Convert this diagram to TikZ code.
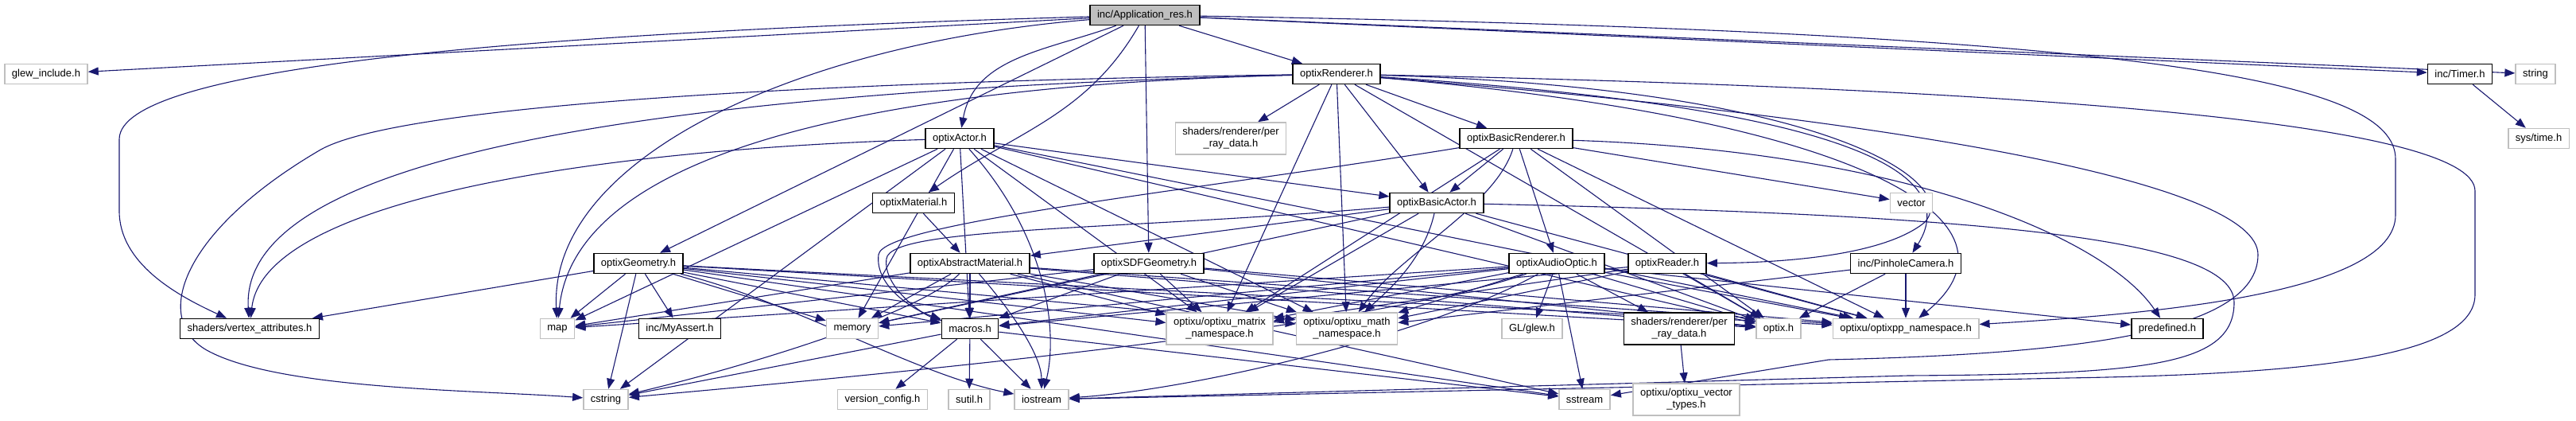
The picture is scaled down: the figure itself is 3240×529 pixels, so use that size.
\documentclass[tikz,border=0pt]{standalone}
\usepackage{fontspec}
\setmainfont{Liberation Sans}
\usetikzlibrary{arrows.meta,backgrounds}
\definecolor{edgeblue}{RGB}{25,25,112}
\definecolor{extgray}{RGB}{191,191,191}
\begin{document}
\begin{tikzpicture}[x=1pt,y=-1pt,
  hdr/.style={draw=black,line width=1.5pt,fill=white,font=\fontsize{13}{15}\selectfont,
    inner xsep=9pt,inner ysep=0pt,minimum height=25pt,align=center},
  ext/.style={hdr,draw=extgray},
  root/.style={hdr,fill=extgray},
  two/.style={minimum height=40pt},
  dep/.style={draw=edgeblue,line width=1.1pt,-{Triangle[length=13pt,width=10pt]}}]
  \useasboundingbox (0,0) rectangle (3240,529);

  \node[root] (A) at (1440,19) {inc/Application\_res.h};
  \node[ext] (glew) at (58,93) {glew\_include.h};
  \node[hdr] (renderer) at (1681,93) {optixRenderer.h};
  \node[hdr] (timer) at (3094,93) {inc/Timer.h};
  \node[ext] (string) at (3189,93) {string};
  \node[ext,two] (prdTop) at (1548,174) {shaders/renderer/per\\\_ray\_data.h};
  \node[hdr] (actor) at (1207,174) {optixActor.h};
  \node[hdr] (basicRenderer) at (1907,174) {optixBasicRenderer.h};
  \node[ext] (systime) at (3193,174) {sys/time.h};
  \node[hdr] (material) at (1149,255) {optixMaterial.h};
  \node[hdr] (basicActor) at (1807,255) {optixBasicActor.h};
  \node[ext] (vector) at (2404,255) {vector};
  \node[hdr] (geometry) at (803,331) {optixGeometry.h};
  \node[hdr] (abstractMat) at (1220,331) {optixAbstractMaterial.h};
  \node[hdr] (sdf) at (1445,331) {optixSDFGeometry.h};
  \node[hdr] (audio) at (1958,331) {optixAudioOptic.h};
  \node[hdr] (reader) at (2097,331) {optixReader.h};
  \node[hdr] (pinhole) at (2397,331) {inc/PinholeCamera.h};
  \node[hdr] (vertexAttr) at (314,413) {shaders/vertex\_attributes.h};
  \node[ext] (map) at (701,413) {map};
  \node[hdr] (myAssert) at (855,413) {inc/MyAssert.h};
  \node[ext] (memory) at (1072,413) {memory};
  \node[hdr] (macros) at (1220,413) {macros.h};
  \node[ext,two] (matrix) at (1534,413) {optixu/optixu\_matrix\\\_namespace.h};
  \node[ext,two] (math) at (1694,413) {optixu/optixu\_math\\\_namespace.h};
  \node[ext] (glewGL) at (1927,413) {GL/glew.h};
  \node[hdr,two] (prdBot) at (2112,413) {shaders/renderer/per\\\_ray\_data.h};
  \node[ext] (optix) at (2237,413) {optix.h};
  \node[ext] (optixpp) at (2397,413) {optixu/optixpp\_namespace.h};
  \node[hdr] (predefined) at (2726,413) {predefined.h};
  \node[ext] (cstring) at (762,502) {cstring};
  \node[ext] (versionConfig) at (1110,502) {version\_config.h};
  \node[ext] (sutil) at (1219,502) {sutil.h};
  \node[ext] (iostream) at (1310,502) {iostream};
  \node[ext] (sstream) at (1993,502) {sstream};
  \node[ext,two] (vectorTypes) at (2121,502) {optixu/optixu\_vector\\\_types.h};

  \begin{pgfonlayer}{background}
  \foreach \t in {glew,renderer,timer,string,geometry,sdf}
    \draw[dep] (A) -- (\t);
  \draw[dep] (A) to[out=200,in=80] (actor);
  \draw[dep] (A) to[out=240,in=35] (material);
  \draw[dep] (A) .. controls (1000,55) and (690,200) .. (map);
  \draw[dep] (A) .. controls (700,40) and (150,80) .. (150,175) -- (150,265)
    .. controls (150,330) and (220,370) .. (vertexAttr);
  \draw[dep] (A) .. controls (2700,40) and (3013,100) .. (3013,200) -- (3013,270)
    .. controls (3013,370) and (2700,395) .. (optixpp);

  \foreach \t in {prdTop,basicRenderer,basicActor,math,matrix,optix}
    \draw[dep] (renderer) -- (\t);
  \draw[dep] (renderer) .. controls (800,115) and (300,200) .. (vertexAttr);
  \draw[dep] (renderer) .. controls (900,105) and (480,140) .. (400,190)
    .. controls (230,290) and (190,400) .. (260,440)
    .. controls (350,490) and (600,490) .. (cstring);
  \draw[dep] (renderer) .. controls (1000,110) and (720,220) .. (map);
  \draw[dep] (renderer) .. controls (2300,110) and (2470,230) .. (2420,280)
    .. controls (2370,320) and (2250,330) .. (reader);
  \draw[dep] (renderer) .. controls (2250,130) and (2480,200) .. (pinhole);
  \draw[dep] (renderer) .. controls (2350,150) and (2560,280) .. (optixpp);
  \draw[dep] (renderer) .. controls (2500,110) and (3113,150) .. (3113,240) -- (3113,370)
    .. controls (3113,450) and (2900,470) .. (2600,475) -- (iostream);
  \draw[dep] (renderer) .. controls (2400,150) and (2840,230) .. (2840,320)
    .. controls (2840,420) and (2600,445) .. (2300,452) -- (sstream);

  \foreach \t in {basicActor,audio,vector,matrix,optix,optixpp}
    \draw[dep] (basicRenderer) -- (\t);
  \draw[dep] (basicRenderer) .. controls (1880,260) and (1760,320) .. (math);
  \draw[dep] (basicRenderer) .. controls (1500,240) and (1110,280) .. (1105,320)
    .. controls (1100,360) and (1150,390) .. (macros);
  \draw[dep] (basicRenderer) .. controls (2400,190) and (2650,300) .. (predefined);

  \foreach \t in {abstractMat,matrix,optix,optixpp,memory}
    \draw[dep] (basicActor) -- (\t);
  \draw[dep] (basicActor) .. controls (1400,290) and (1120,285) .. (1115,325)
    .. controls (1110,360) and (1160,395) .. (macros);
  \draw[dep] (basicActor) .. controls (1790,330) and (1740,370) .. (math);
  \draw[dep] (basicActor) .. controls (2500,270) and (2810,300) .. (2810,380)
    .. controls (2810,460) and (2700,470) .. (2400,472) -- (iostream);

  \foreach \t in {basicActor,map,memory,macros,matrix,math,optix,optixpp,cstring}
    \draw[dep] (actor) -- (\t);
  \draw[dep] (actor) .. controls (700,190) and (330,260) .. (vertexAttr);
  \draw[dep] (actor) .. controls (1320,300) and (1330,420) .. (iostream);

  \draw[dep] (material) -- (abstractMat);

  \foreach \t in {macros,memory,map,matrix,math,optix,optixpp,sstream}
    \draw[dep] (abstractMat) -- (\t);
  \draw[dep] (abstractMat) .. controls (1280,400) and (1310,450) .. (iostream);
  \draw[dep] (abstractMat) .. controls (1150,400) and (900,470) .. (cstring);

  \foreach \t in {map,myAssert,cstring,vertexAttr,memory,macros,matrix,math,optix,optixpp,sstream}
    \draw[dep] (geometry) -- (\t);
  \draw[dep] (geometry) .. controls (1000,380) and (1150,470) .. (iostream);

  \foreach \t in {matrix,macros,math,optix,optixpp,memory,map}
    \draw[dep] (sdf) -- (\t);

  \foreach \t in {glewGL,prdBot,sstream,macros,map,memory,matrix,math,optix,optixpp,predefined}
    \draw[dep] (audio) -- (\t);
  \draw[dep] (audio) .. controls (1800,420) and (1500,490) .. (iostream);
  \draw[dep] (audio) .. controls (1700,420) and (1000,480) .. (cstring);

  \foreach \t in {optix,math,matrix,macros,optixpp}
    \draw[dep] (reader) -- (\t);
  \foreach \t in {optix,optixpp,math}
    \draw[dep] (pinhole) -- (\t);
  \foreach \t in {versionConfig,sutil,iostream,sstream,cstring}
    \draw[dep] (macros) -- (\t);
  \draw[dep] (prdBot) -- (vectorTypes);
  \draw[dep] (timer) -- (systime);
  \end{pgfonlayer}
\end{tikzpicture}
\end{document}
